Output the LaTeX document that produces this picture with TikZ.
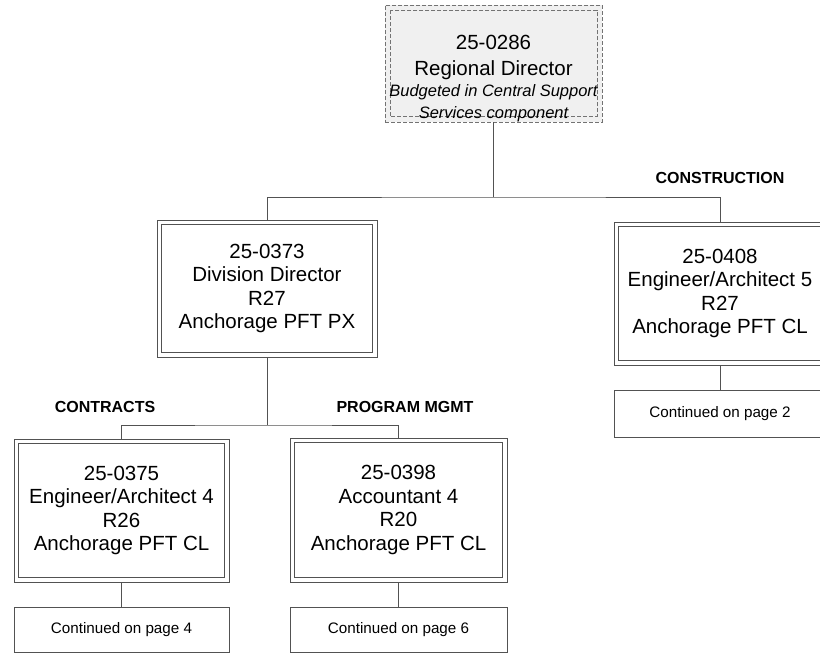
\documentclass[tikz,border=0pt]{standalone}
\usepackage{fontspec}
\setmainfont{Liberation Sans}
\begin{document}
\begin{tikzpicture}[x=1pt,y=-1pt,
  lnk/.style={draw=black!68, line width=0.8pt},
  posbox/.style={draw=black!68, line width=0.8pt, align=center, inner sep=0pt,
    font=\fontsize{20.5}{23.5}\selectfont},
  innerbox/.style={draw=black!68, line width=0.8pt},
  contbox/.style={draw=black!68, line width=0.8pt, align=center, inner sep=0pt,
    font=\fontsize{15.2}{18}\selectfont},
  unitlbl/.style={font=\bfseries\fontsize{16}{18}\selectfont, inner sep=0pt},
  topdash/.style={draw=black!55, dash pattern=on 4pt off 2pt, line width=0.8pt},
  topbox/.style={topdash, fill=black!6, inner sep=0pt},
  toptxt/.style={align=center, inner sep=0pt, font=\fontsize{20.5}{26}\selectfont},
  topital/.style={align=center, inner sep=0pt, font=\itshape\fontsize{16.5}{21.5}\selectfont}
]
\useasboundingbox (0,0) rectangle (820,655);
% top box
\node[topbox, minimum width=217pt, minimum height=117pt] (rd) at (493.5,63.5) {};
\draw[topdash] ([shift={(5.5pt,-5.5pt)}]rd.north west) rectangle ([shift={(-5.5pt,5.5pt)}]rd.south east);
\node[toptxt] (rdt) at (493.5,57) {25-0286\\Regional Director};
\node[topital] (rdi) at (493.5,103.3) {Budgeted in Central Support\\Services component};

% positions
\node[posbox, minimum width=220pt, minimum height=137pt] (dd) at (267,288.5)
  {25-0373\\Division Director\\R27\\Anchorage PFT PX};
\node[posbox, minimum width=212pt, minimum height=143pt] (ea5) at (720,293.5)
  {25-0408\\Engineer/Architect 5\\R27\\Anchorage PFT CL};
\node[posbox, minimum width=215pt, minimum height=143pt] (ea4) at (121.5,510.5)
  {25-0375\\Engineer/Architect 4\\R26\\Anchorage PFT CL};
\node[posbox, minimum width=217pt, minimum height=144pt] (acc) at (398.5,510)
  {25-0398\\Accountant 4\\R20\\Anchorage PFT CL};
\foreach \n in {dd,ea5,ea4,acc}
  \draw[innerbox] ([shift={(5pt,-5pt)}]\n.north west) rectangle ([shift={(-5pt,5pt)}]\n.south east);

% continuation boxes
\node[contbox, minimum width=212pt, minimum height=47pt] (c2) at (720,413.5) {Continued on page 2};
\node[contbox, minimum width=215pt, minimum height=45pt] (c4) at (121.5,629.5) {Continued on page 4};
\node[contbox, minimum width=217pt, minimum height=45pt] (c6) at (398.5,629.5) {Continued on page 6};

% unit labels
\node[unitlbl] (lcons) at (720,177.5) {CONSTRUCTION};
\node[unitlbl] (lcontr) at (105,407) {CONTRACTS};
\node[unitlbl] (lprog) at (405,406.5) {PROGRAM MGMT};

% connectors
\coordinate (j1) at (493.5,197);
\coordinate (j2) at (267,425);
\draw[lnk] (rd.south) -- (j1);
\draw[lnk] (dd.north) |- (j1) -| (ea5.north);
\draw[lnk] (dd.south) -- (j2);
\draw[lnk] (ea4.north) |- (j2) -| (acc.north);
\draw[lnk] (ea5.south) -- (c2.north);
\draw[lnk] (ea4.south) -- (c4.north);
\draw[lnk] (acc.south) -- (c6.north);
\end{tikzpicture}
\end{document}
